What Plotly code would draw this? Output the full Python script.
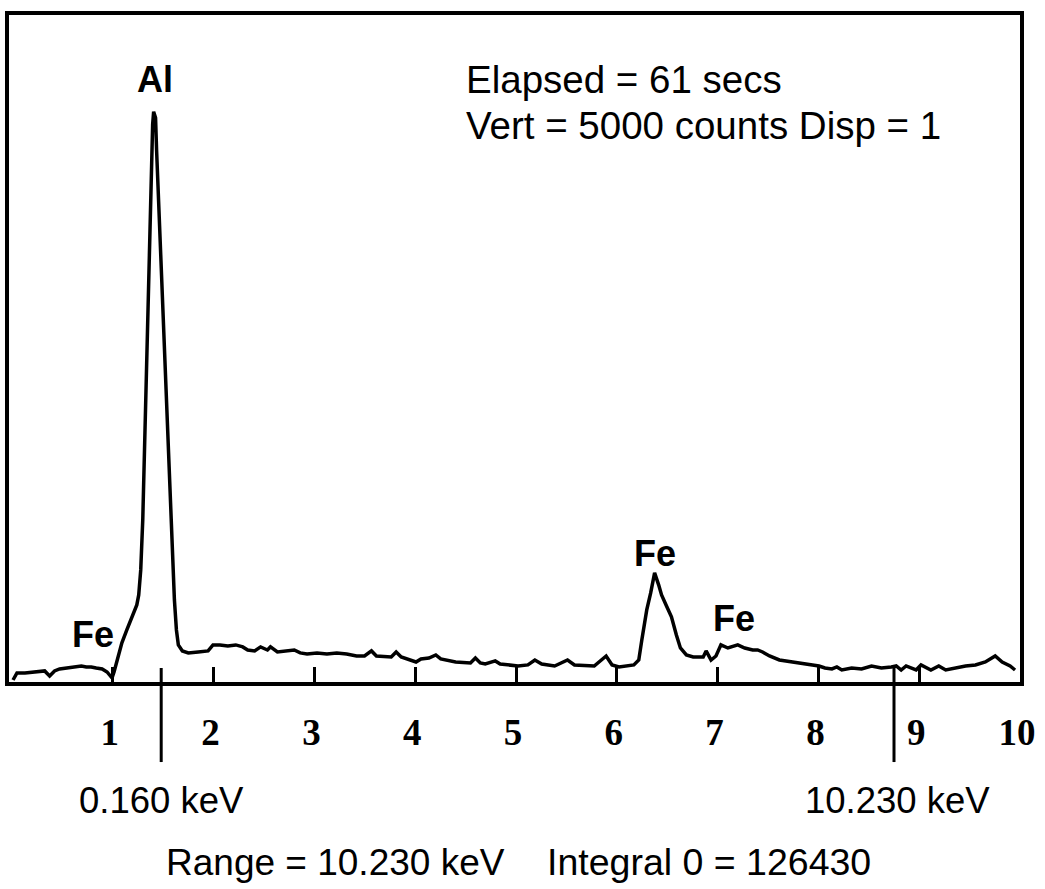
import plotly.graph_objects as go

# EDS spectrum: energy (keV) vs counts
energy_kev = [
    0.010, 0.049, 0.128, 0.206, 0.275, 0.324, 0.373, 0.422, 0.472, 0.540,
    0.589, 0.639, 0.688, 0.737, 0.786, 0.835, 0.894, 0.943, 0.992, 1.012,
    1.041, 1.090, 1.139, 1.189, 1.238, 1.257, 1.277, 1.297, 1.316, 1.336,
    1.356, 1.375, 1.385, 1.395, 1.405, 1.424, 1.434, 1.454, 1.473, 1.503,
    1.532, 1.562, 1.591, 1.611, 1.631, 1.650, 1.690, 1.749, 1.847, 1.945,
    1.994, 2.063, 2.141, 2.220, 2.289, 2.338, 2.407, 2.466, 2.534, 2.564,
    2.633, 2.731, 2.800, 2.859, 2.927, 3.026, 3.124, 3.222, 3.320, 3.418,
    3.497, 3.566, 3.615, 3.762, 3.811, 3.861, 3.959, 4.008, 4.057, 4.136,
    4.204, 4.253, 4.401, 4.548, 4.597, 4.646, 4.695, 4.794, 4.843, 4.921,
    5.020, 5.118, 5.187, 5.255, 5.383, 5.511, 5.580, 5.776, 5.894, 5.953,
    6.022, 6.169, 6.218, 6.248, 6.277, 6.297, 6.336, 6.375, 6.415, 6.444,
    6.493, 6.542, 6.591, 6.631, 6.690, 6.758, 6.857, 6.886, 6.935, 6.984,
    7.033, 7.102, 7.200, 7.269, 7.348, 7.397, 7.446, 7.515, 7.613, 7.741,
    7.839, 7.937, 8.006, 8.065, 8.134, 8.183, 8.232, 8.330, 8.428, 8.527,
    8.625, 8.723, 8.772, 8.821, 8.870, 8.969, 9.018, 9.116, 9.194, 9.263,
    9.361, 9.460, 9.558, 9.656, 9.754, 9.823, 9.902, 9.951,
]
counts = [
    15, 68, 68, 75, 75, 83, 45, 83, 98, 105,
    113, 113, 120, 113, 113, 105, 98, 75, 30, 75,
    150, 293, 390, 488, 578, 653, 840, 1215, 1815, 2490,
    3165, 3690, 3990, 4178, 4275, 4230, 3990, 3615, 3240, 2715,
    2115, 1515, 953, 615, 390, 278, 233, 218, 225, 233,
    278, 278, 270, 278, 263, 240, 233, 263, 240, 263,
    225, 233, 240, 218, 210, 218, 210, 218, 210, 195,
    195, 233, 195, 188, 225, 188, 165, 150, 173, 180,
    203, 173, 150, 143, 180, 143, 135, 158, 135, 128,
    120, 128, 165, 135, 120, 165, 128, 120, 195, 128,
    113, 128, 165, 315, 465, 540, 668, 818, 728, 653,
    570, 488, 353, 255, 203, 188, 188, 233, 165, 195,
    278, 255, 278, 255, 240, 240, 225, 195, 165, 150,
    143, 128, 120, 105, 98, 113, 90, 105, 98, 120,
    105, 113, 120, 90, 120, 90, 128, 90, 120, 90,
    105, 120, 128, 150, 195, 150, 120, 90,
]

tick_values = [1, 2, 3, 4, 5, 6, 7, 8, 9, 10]
tick_labels = ["1", "2", "3", "4", "5", "6", "7", "8", "9", "10"]

# peak identifications: (label, energy keV)
peak_names = ["Al", "Fe", "Fe", "Fe"]
peak_kev = [1.42, 0.80, 6.375, 7.16]

# cursor markers (keV on axis) and their readouts
cursor_kev = [1.48, 8.75]
cursor_text = ["0.160 keV", "10.230 keV"]

elapsed_text = "Elapsed = 61 secs"
vert_text = "Vert = 5000 counts Disp = 1"
range_text = "Range = 10.230 keV"
integral_text = "Integral 0 = 126430"

full_scale = 5000

SANS = "Liberation Sans, Arial, Helvetica, sans-serif"
SERIF = "Liberation Serif, Times New Roman, serif"

fig = go.Figure()
fig.add_trace(go.Scatter(
    x=energy_kev, y=counts, mode="lines",
    line=dict(color="black", width=3.5),
    hoverinfo="skip", showlegend=False,
))

fig.update_xaxes(
    range=[-0.03, 10.0],
    showline=True, linecolor="black", linewidth=4, mirror=True,
    showgrid=False, zeroline=False,
    ticks="inside", ticklen=15, tickwidth=3, tickcolor="black",
    tickvals=tick_values, ticktext=tick_labels,
    tickfont=dict(family=SERIF, size=37, color="black", weight="bold"),
    ticklabelstandoff=15, ticklabelshift=-3,
)
fig.update_yaxes(
    range=[0, full_scale],
    showline=True, linecolor="black", linewidth=4, mirror=True,
    showgrid=False, zeroline=False, showticklabels=False, ticks="",
)

annotations = []
peak_y = [0.904, 0.0705, 0.193, 0.0945]
for name, kev, py in zip(peak_names, peak_kev, peak_y):
    annotations.append(dict(
        x=kev, xref="x", y=py, yref="paper", text=name, showarrow=False,
        xanchor="center", yanchor="middle",
        font=dict(family=SANS, size=36, color="black", weight="bold"),
    ))

text_items = [
    (elapsed_text, 0.450, 0.904, 38.5),
    (vert_text, 0.450, 0.835, 38.5),
    (cursor_text[0], 0.0676, -0.177, 36.5),
    (cursor_text[1], 0.785, -0.177, 36.5),
    (range_text, 0.153, -0.270, 37),
    (integral_text, 0.530, -0.270, 37.5),
]
for txt, px, py, size in text_items:
    annotations.append(dict(
        x=px, xref="paper", y=py, yref="paper", text=txt, showarrow=False,
        xanchor="left", yanchor="middle",
        font=dict(family=SANS, size=size, color="black"),
    ))

shapes = []
for kev in cursor_kev:
    shapes.append(dict(
        type="line", xref="x", yref="paper",
        x0=kev, x1=kev, y0=0.021, y1=-0.12,
        line=dict(color="black", width=3),
    ))

fig.update_layout(
    width=1045, height=889,
    margin=dict(l=9, r=16, t=15, b=207),
    paper_bgcolor="white", plot_bgcolor="white",
    annotations=annotations, shapes=shapes,
)

fig.write_html("out.html")
